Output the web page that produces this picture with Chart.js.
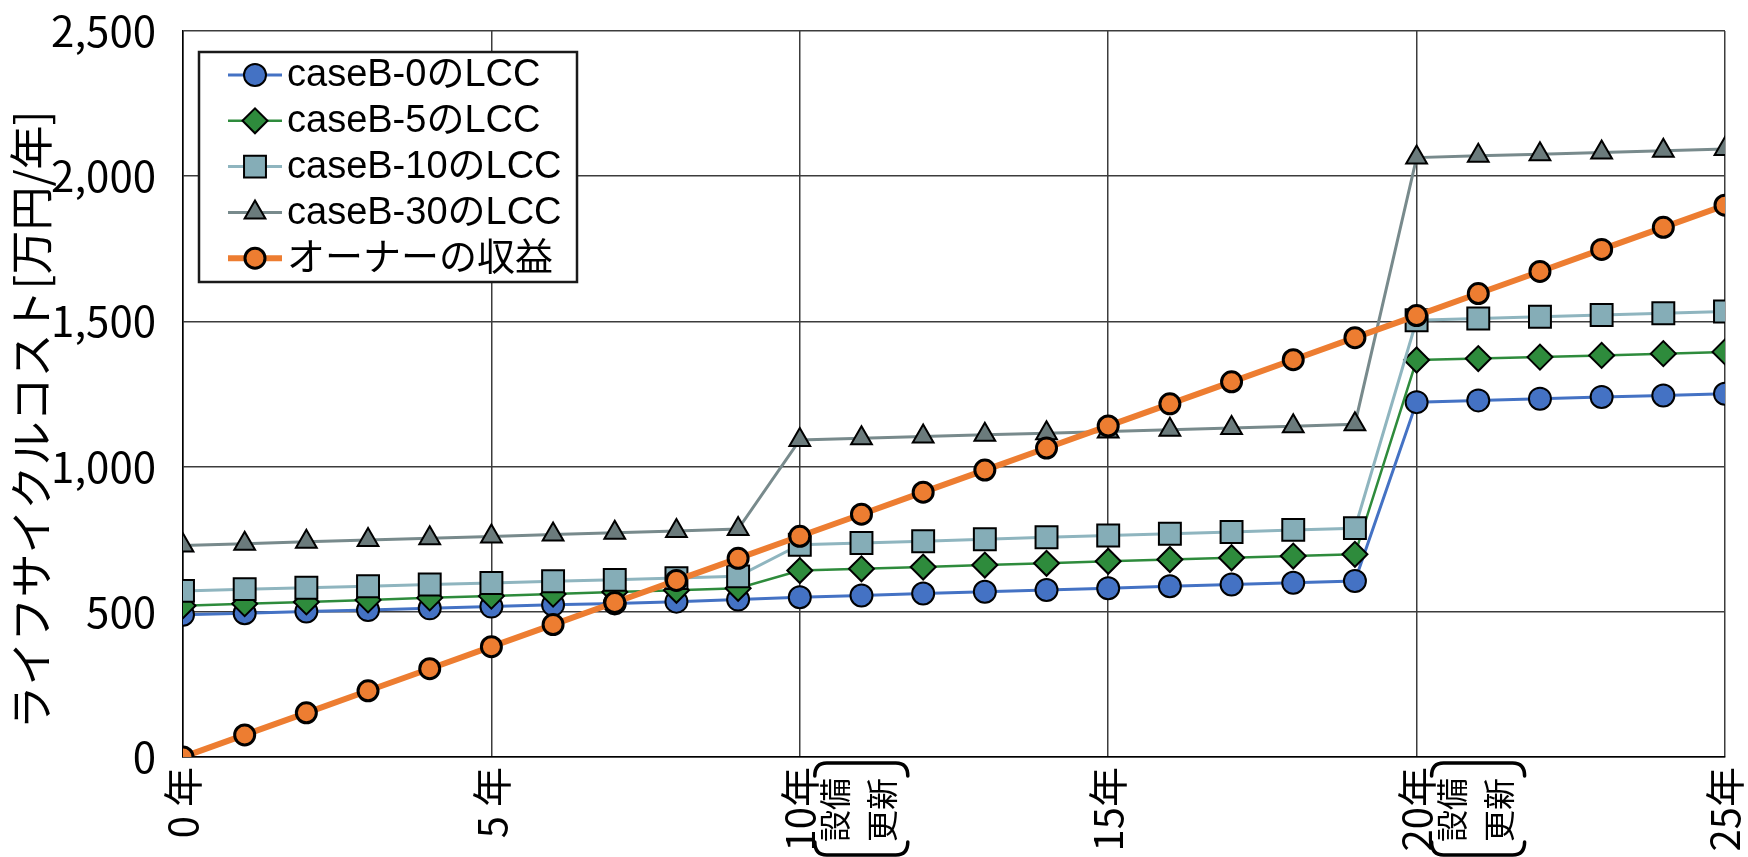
<!DOCTYPE html>
<html lang="ja">
<head>
<meta charset="utf-8">
<title>ライフサイクルコストとオーナーの収益</title>
<script src="https://cdn.jsdelivr.net/npm/chart.js@4.4.1/dist/chart.umd.min.js"></script>
<style>
  html, body { margin: 0; padding: 0; background: #ffffff; }
  #wrap { width: 1748px; height: 857px; position: relative; }
</style>
</head>
<body>
<div id="wrap"><canvas id="chart" width="1748" height="857"></canvas></div>
<script>
// 経過年数
const years = [0, 1, 2, 3, 4, 5, 6, 7, 8, 9, 10, 11, 12, 13, 14, 15, 16, 17, 18, 19, 20, 21, 22, 23, 24, 25];

// 軸目盛ラベル
const xTickLabels = ['0 年', '5 年', '10年', '15年', '20年', '25年'];
const yTickLabels = ['0', '500', '1,000', '1,500', '2,000', '2,500'];
const yAxisTitle = 'ライフサイクルコスト[万円/年]';

// 系列名
const seriesNames = ['caseB-0のLCC', 'caseB-5のLCC', 'caseB-10のLCC', 'caseB-30のLCC', 'オーナーの収益'];

// 各ケースのLCC [万円/年]
const lccCaseB0  = [490, 495, 501, 506, 512, 518, 524, 529, 535, 542, 550, 556, 563, 569, 575, 581, 588, 594, 600, 606, 1222, 1228, 1234, 1240, 1245, 1251];
const lccCaseB5  = [521, 528, 534, 541, 548, 554, 561, 568, 574, 581, 642, 648, 654, 661, 667, 674, 680, 686, 692, 698, 1367, 1372, 1377, 1383, 1389, 1395];
const lccCaseB10 = [572, 578, 583, 588, 594, 599, 605, 610, 616, 622, 731, 737, 743, 750, 757, 763, 769, 775, 782, 788, 1504, 1510, 1516, 1522, 1528, 1534];
const lccCaseB30 = [728, 734, 741, 747, 753, 759, 766, 772, 778, 785, 1092, 1098, 1104, 1110, 1115, 1121, 1127, 1133, 1139, 1146, 2064, 2070, 2076, 2082, 2088, 2094];

// オーナーの収益 [万円/年]
const ownerIncome = [0, 76, 152, 228, 304, 380, 456, 532, 608, 684, 760, 836, 912, 988, 1064, 1140, 1216, 1292, 1368, 1444, 1520, 1596, 1672, 1748, 1824, 1900];

// 設備更新の年と注記
const renewalYears = [10, 20];
const renewalNote = ['設備', '更新'];

const JP_FONT = "'Noto Sans CJK JP', 'Noto Sans', sans-serif";
const LEGEND_FONT = "'Liberation Sans', 'Noto Sans CJK JP', sans-serif";

function makeSeries(label, data, color, fill, lineWidth, style, radius, borderW, order) {
  return {
    label: label,
    data: data,
    borderColor: color,
    backgroundColor: fill,
    borderWidth: lineWidth,
    pointStyle: style,
    pointRadius: radius,
    pointHoverRadius: radius,
    pointBackgroundColor: fill,
    pointBorderColor: '#000000',
    pointBorderWidth: borderW,
    tension: 0,
    fill: false,
    order: order
  };
}

const datasets = [
  makeSeries(seriesNames[0], lccCaseB0,  '#4472C4', '#4472C4', 3,   'circle',   11,   2, 5),
  makeSeries(seriesNames[1], lccCaseB5,  '#2E8B3C', '#2E8B3C', 2.5, 'rectRot',  12.5, 2, 4),
  makeSeries(seriesNames[2], lccCaseB10, '#8FB5BF', '#85ADB7', 3,   'rect',     15.5, 2, 3),
  makeSeries(seriesNames[3], lccCaseB30, '#788A8C', '#6B7B7C', 3,   'triangle', 12,   2, 2),
  makeSeries(seriesNames[4], ownerIncome,'#ED7D31', '#ED7D31', 6,   'circle',   10,   3, 1)
];

// 縦軸タイトル（軸の下寄りに配置）
const yTitlePlugin = {
  id: 'yTitle',
  afterDraw(chart) {
    const ctx = chart.ctx;
    ctx.save();
    ctx.translate(31, 420);
    ctx.rotate(-Math.PI / 2);
    ctx.font = "44px " + JP_FONT;
    ctx.fillStyle = '#000000';
    ctx.textAlign = 'center';
    ctx.textBaseline = 'middle';
    ctx.fillText(yAxisTitle, 0, 0);
    ctx.restore();
  }
};

// 設備更新年の括弧付き注記
const renewalPlugin = {
  id: 'renewalNote',
  afterDraw(chart) {
    const ctx = chart.ctx;
    const xs = chart.scales.x;
    ctx.save();
    renewalYears.forEach(function (yr) {
      const px = xs.getPixelForValue(yr);
      const L = px + 15, R = px + 108, T = 763, B = 855, c = 12;
      ctx.strokeStyle = '#000000';
      ctx.lineWidth = 3.5;
      ctx.lineCap = 'round';
      ctx.beginPath();
      ctx.moveTo(L, T + 13);
      ctx.quadraticCurveTo(L, T, L + c, T);
      ctx.lineTo(R - c, T);
      ctx.quadraticCurveTo(R, T, R, T + 13);
      ctx.stroke();
      ctx.beginPath();
      ctx.moveTo(L, B - 13);
      ctx.quadraticCurveTo(L, B, L + c, B);
      ctx.lineTo(R - c, B);
      ctx.quadraticCurveTo(R, B, R, B - 13);
      ctx.stroke();

      ctx.font = "32px " + JP_FONT;
      ctx.fillStyle = '#000000';
      ctx.textAlign = 'center';
      ctx.textBaseline = 'middle';
      [35, 82].forEach(function (dx, i) {
        ctx.save();
        ctx.translate(px + dx, 810);
        ctx.rotate(-Math.PI / 2);
        ctx.fillText(renewalNote[i], 0, 0);
        ctx.restore();
      });
    });
    ctx.restore();
  }
};

// 枠付き凡例（プロット内左上）
const boxedLegendPlugin = {
  id: 'boxedLegend',
  afterDraw(chart) {
    const ctx = chart.ctx;
    const box = { left: 199, top: 52, width: 378, height: 230 };
    ctx.save();
    ctx.fillStyle = '#ffffff';
    ctx.fillRect(box.left, box.top, box.width, box.height);
    ctx.strokeStyle = '#1a1a1a';
    ctx.lineWidth = 2.5;
    ctx.strokeRect(box.left, box.top, box.width, box.height);

    chart.data.datasets.forEach(function (ds, i) {
      const cy = 75 + i * 45.8;
      ctx.strokeStyle = ds.borderColor;
      ctx.lineWidth = ds.borderWidth;
      ctx.lineCap = 'butt';
      ctx.beginPath();
      ctx.moveTo(228, cy);
      ctx.lineTo(282, cy);
      ctx.stroke();

      ctx.fillStyle = ds.pointBackgroundColor;
      ctx.strokeStyle = ds.pointBorderColor;
      ctx.lineWidth = ds.pointBorderWidth;
      Chart.helpers.drawPoint(ctx, {
        pointStyle: ds.pointStyle,
        radius: ds.pointRadius,
        rotation: 0,
        borderWidth: ds.pointBorderWidth
      }, 255, cy);

      ctx.fillStyle = '#000000';
      ctx.font = "38px " + LEGEND_FONT;
      ctx.textAlign = 'left';
      ctx.textBaseline = 'middle';
      ctx.fillText(ds.label, 287, cy + 1);
    });
    ctx.restore();
  }
};

new Chart(document.getElementById('chart'), {
  type: 'line',
  data: { labels: years, datasets: datasets },
  options: {
    responsive: false,
    devicePixelRatio: 1,
    animation: false,
    events: [],
    layout: { autoPadding: false, padding: { top: 31, right: 23, bottom: 0, left: 0 } },
    plugins: {
      legend: { display: false },
      tooltip: { enabled: false }
    },
    scales: {
      x: {
        type: 'linear',
        min: 0,
        max: 25,
        afterFit(scale) {
          scale.height = 100;
          scale.paddingLeft = 0;
          scale.paddingRight = 0;
        },
        ticks: {
          stepSize: 5,
          autoSkip: false,
          minRotation: 90,
          maxRotation: 90,
          padding: 10,
          color: '#000000',
          font: { family: JP_FONT, size: 40 },
          callback: function (v) { return xTickLabels[Math.round(v / 5)]; }
        },
        grid: { color: '#3c3c3c', lineWidth: 1.5, drawTicks: false },
        border: { color: '#000000', width: 1.5 }
      },
      y: {
        min: 0,
        max: 2500,
        afterFit(scale) {
          scale.width = 183;
          scale.paddingTop = 0;
          scale.paddingBottom = 0;
        },
        ticks: {
          stepSize: 500,
          padding: 27,
          color: '#000000',
          font: { family: JP_FONT, size: 42 },
          callback: function (v) { return yTickLabels[Math.round(v / 500)]; }
        },
        grid: { color: '#3c3c3c', lineWidth: 1.5, drawTicks: false },
        border: { color: '#000000', width: 1.5 }
      }
    }
  },
  plugins: [yTitlePlugin, renewalPlugin, boxedLegendPlugin]
});
</script>
</body>
</html>
